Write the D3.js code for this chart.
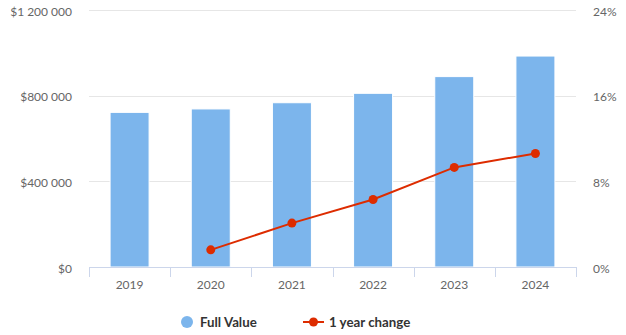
<!DOCTYPE html>
<html><head><meta charset="utf-8">
<script src="https://cdn.jsdelivr.net/npm/d3@7"></script>
<style>
body{margin:0;background:#fff;}
svg{display:block;font-family:Lato, "Open Sans", sans-serif;}
</style></head>
<body><svg id="c" width="626" height="335"></svg>
<script>
const years = ["2019","2020","2021","2022","2023","2024"];
const fullValue = [722000, 738000, 767000, 811000, 889000, 985000];
const yearChange = [null, 1.6, 4.1, 6.3, 9.3, 10.6];
const leftTicks = [0, 400000, 800000, 1200000];
const rightTicks = [0, 8, 16, 24];
const seriesNames = ["Full Value", "1 year change"];

const svg = d3.select("#c");
const L = 89, R = 576, T = 10, B = 267;
const x = d3.scaleBand().domain(years).range([L, R]).paddingInner(0).paddingOuter(0);
const yL = d3.scaleLinear().domain([0, 1200000]).range([B, T]);
const yR = d3.scaleLinear().domain([0, 24]).range([B, T]);

const fmt = v => "$" + d3.format(",")(v).replace(/,/g, " ");

// gridlines
svg.append("g").selectAll("line").data(leftTicks.slice(1)).join("line")
  .attr("x1", L).attr("x2", R)
  .attr("y1", d => Math.round(yL(d)) + 0.5).attr("y2", d => Math.round(yL(d)) + 0.5)
  .attr("stroke", "#e6e6e6").attr("stroke-width", 1);

// left labels
svg.append("g").selectAll("text").data(leftTicks).join("text")
  .attr("x", 72).attr("y", d => yL(d) + 5.5)
  .attr("text-anchor", "end").attr("font-size", 12).attr("fill", "#666")
  .text(fmt);

// right labels
svg.append("g").selectAll("text").data(rightTicks).join("text")
  .attr("x", 593).attr("y", d => yR(d) + 5.5)
  .attr("text-anchor", "start").attr("font-size", 12).attr("fill", "#666")
  .text(d => d + "%");

// bars
const bw = 39;
svg.append("g").selectAll("rect").data(years).join("rect")
  .attr("x", d => x(d) + x.bandwidth() / 2 - bw / 2)
  .attr("y", (d, i) => yL(fullValue[i]))
  .attr("width", bw)
  .attr("height", (d, i) => B - yL(fullValue[i]))
  .attr("fill", "#7cb5ec").attr("stroke", "#fff").attr("stroke-width", 1);

// x axis
const xa = svg.append("g");
xa.append("line").attr("x1", L).attr("x2", R).attr("y1", B + 0.5).attr("y2", B + 0.5)
  .attr("stroke", "#ccd6eb");
const bounds = years.map(d => x(d)).concat([R]);
xa.selectAll("line.t").data(bounds).join("line").attr("class", "t")
  .attr("x1", d => Math.round(d) + 0.5).attr("x2", d => Math.round(d) + 0.5)
  .attr("y1", B).attr("y2", B + 10).attr("stroke", "#ccd6eb");
xa.selectAll("text").data(years).join("text")
  .attr("x", d => x(d) + x.bandwidth() / 2).attr("y", 289)
  .attr("text-anchor", "middle").attr("font-size", 12).attr("fill", "#666")
  .text(d => d);

// line
const pts = years.map((d, i) => [x(d) + x.bandwidth() / 2, yearChange[i]]).filter(p => p[1] != null);
svg.append("path").datum(pts)
  .attr("d", d3.line().x(p => p[0]).y(p => yR(p[1])))
  .attr("fill", "none").attr("stroke", "#dd2c00").attr("stroke-width", 2);
svg.append("g").selectAll("circle").data(pts).join("circle")
  .attr("cx", p => p[0]).attr("cy", p => yR(p[1])).attr("r", 4.5)
  .attr("fill", "#dd2c00");

// legend
const lg = svg.append("g");
lg.append("circle").attr("cx", 187).attr("cy", 322).attr("r", 6).attr("fill", "#7cb5ec");
lg.append("text").attr("x", 200).attr("y", 327).attr("font-size", 13.3).attr("font-weight", "bold")
  .attr("fill", "#333").text(seriesNames[0]);
lg.append("line").attr("x1", 303).attr("x2", 324).attr("y1", 322).attr("y2", 322)
  .attr("stroke", "#dd2c00").attr("stroke-width", 2);
lg.append("circle").attr("cx", 313.5).attr("cy", 322).attr("r", 4.5).attr("fill", "#dd2c00");
lg.append("text").attr("x", 329).attr("y", 327).attr("font-size", 13.3).attr("font-weight", "bold")
  .attr("fill", "#333").text(seriesNames[1]);
</script></body></html>
